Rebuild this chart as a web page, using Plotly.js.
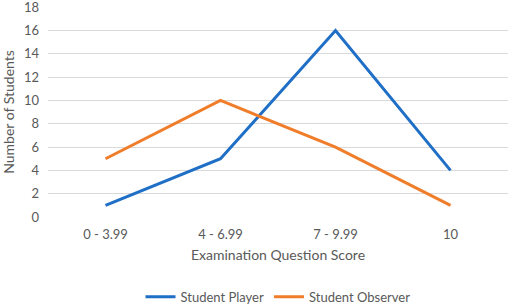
<!DOCTYPE html>
<html><head><meta charset="utf-8">
<script src="https://cdn.plot.ly/plotly-3.0.1.min.js"></script>
<style>html,body{margin:0;padding:0;background:#fff}#chart{width:512px;height:305px}</style>
</head><body><div id="chart"></div>
<script>
var categories = ["0 - 3.99", "4 - 6.99", "7 - 9.99", "10"];
var playerValues = [1, 5, 16, 4];
var observerValues = [5, 10, 6, 1];
var yTicks = [0, 2, 4, 6, 8, 10, 12, 14, 16, 18];

var font = "Lato, 'Open Sans', sans-serif";
var data = [
  {x: categories, y: playerValues, name: "Student Player", type: "scatter", mode: "lines",
   line: {color: "#1f6fc6", width: 3}},
  {x: categories, y: observerValues, name: "Student Observer", type: "scatter", mode: "lines",
   line: {color: "#f07d2a", width: 3}}
];
var layout = {
  width: 512, height: 305,
  margin: {l: 48, r: 4, t: 7, b: 88, autoexpand: false},
  paper_bgcolor: "#fff", plot_bgcolor: "#fff",
  font: {family: font, color: "#595959", size: 13},
  showlegend: true,
  legend: {orientation: "h", x: 0.5, xanchor: "center", y: -0.38, yanchor: "middle",
           font: {size: 13, color: "#595959"}, itemwidth: 30, tracegroupgap: 0},
  xaxis: {type: "category", range: [-0.5, 3.5], automargin: false, showgrid: false, zeroline: false, showline: false,
          ticks: "", tickfont: {size: 13}, ticklabelstandoff: 8,
          title: {text: "Examination Question Score", font: {size: 14}, standoff: 9}},
  yaxis: {range: [0, 18.02], autorange: false, automargin: false, tickmode: "array", tickvals: yTicks,
          ticklabeloverflow: "allow",
          showgrid: true, gridcolor: "#d9d9d9", gridwidth: 1,
          zeroline: false, showline: false, ticks: "", tickfont: {size: 13}, ticklabelstandoff: 8,
          title: {text: "Number of Students", font: {size: 14}, standoff: 6}}
};
Plotly.newPlot("chart", data, layout, {staticPlot: true, displayModeBar: false});
</script></body></html>
